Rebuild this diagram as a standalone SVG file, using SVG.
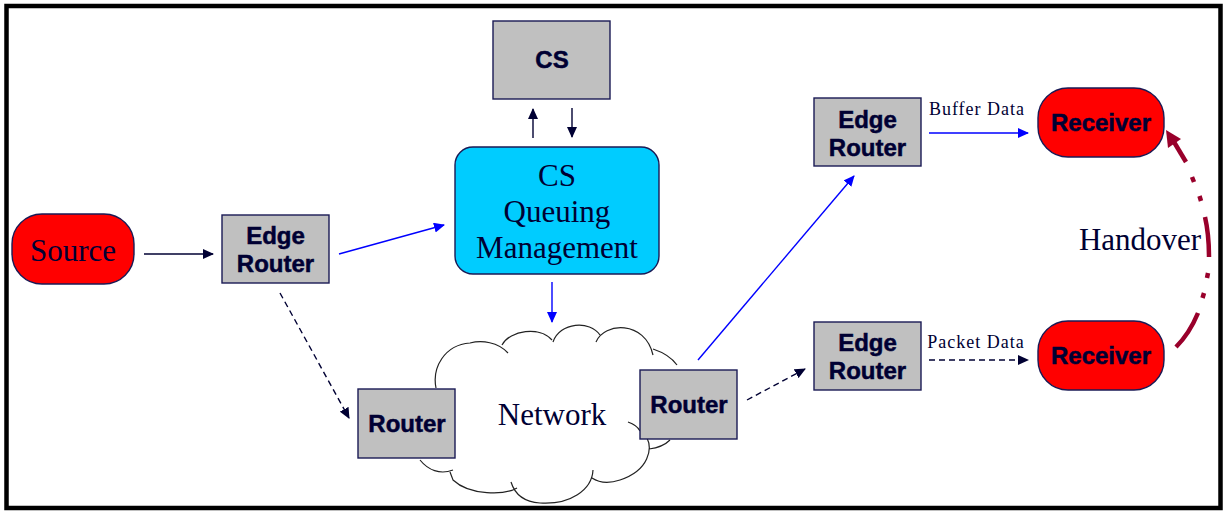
<svg xmlns="http://www.w3.org/2000/svg" width="1225" height="511" viewBox="0 0 1225 511">
<style>
.box{fill:#c0c0c0;stroke:#1a1a55;stroke-width:1.4}
.red{fill:#ff0000;stroke:#1a1a55;stroke-width:1.4}
.b{font-family:"Liberation Sans",Arial,sans-serif;font-weight:bold;font-size:24px;fill:#000033;stroke:#000033;stroke-width:0.5;text-anchor:middle}
.s{font-family:"Liberation Serif","Times New Roman",serif;font-size:31px;fill:#000033;text-anchor:middle}
.l{font-family:"Liberation Serif","Times New Roman",serif;font-size:18px;letter-spacing:1px;fill:#000033;text-anchor:middle}
.k{fill:none;stroke:#000033;stroke-width:1.4}
.u{fill:none;stroke:#0000ff;stroke-width:1.4}
.h{fill:none;stroke:#99002b;stroke-width:4.5}
.d{stroke-dasharray:6 4}
</style>
<defs>
<marker id="ak" markerWidth="11" markerHeight="10" refX="10" refY="5" orient="auto" markerUnits="userSpaceOnUse"><path d="M0 0L11 5L0 10z" fill="#000033"/></marker>
<marker id="au" markerWidth="11" markerHeight="10" refX="10" refY="5" orient="auto" markerUnits="userSpaceOnUse"><path d="M0 0L11 5L0 10z" fill="#0000ff"/></marker>
</defs>
<rect id="frame" x="6.500" y="6" width="1214" height="502" fill="#fff" stroke="#000" stroke-width="4.500"/>
<g id="cloud"><path d="M436 388C432 368 444 345 470 343C482 340 498 342 508 353M502 345C510 330 540 326 552 340M553 342C560 322 590 320 600 335M596 342C604 322 645 320 653 355M653 349C665 353 672 358 677 365L690 440L670 440C665 445 657 448 649 449M647 438C652 448 650 470 620 480C608 484 598 482 592 478M593 470C592 490 570 505 540 503C525 502 515 495 511 482M517 488C505 495 470 496 453 480L450 472M453 470C440 475 428 470 415 455L436 388Z" fill="#fff" stroke="none"/><path d="M436 388C432 368 444 345 470 343C482 340 498 342 508 353M502 345C510 330 540 326 552 340M553 342C560 322 590 320 600 335M596 342C604 322 645 320 653 355M653 349C665 353 672 358 677 365M670 440C665 445 657 448 649 449M647 438C652 448 650 470 620 480C608 484 598 482 592 478M593 470C592 490 570 505 540 503C525 502 515 495 511 482M517 488C505 495 470 496 453 480L450 472M453 470C440 475 428 470 420 460M628 422C634 424 638 427 640 431" fill="none" stroke="#222" stroke-width="1.200"/><text class="s" x="552" y="425">Network</text></g>
<g id="connectors">
<path class="k" d="M144 254H213" marker-end="url(#ak)"/>
<path class="u" d="M339 254L444 225" marker-end="url(#au)"/>
<path class="k d" d="M280 293L349 418" marker-end="url(#ak)"/>
<path class="k" d="M533 138V109" marker-end="url(#ak)"/>
<path class="k" d="M572 108V137" marker-end="url(#ak)"/>
<path class="u" d="M552 282V322" marker-end="url(#au)"/>
<path class="u" d="M698 360L854 176" marker-end="url(#au)"/>
<path class="k d" d="M747 400L805 369" marker-end="url(#ak)"/>
<path class="u" d="M929 133H1028" marker-end="url(#au)"/>
<path class="k d" d="M929 360H1028" marker-end="url(#ak)"/>
<path class="h" d="M1176 347C1186 337 1193 325 1198 313"/>
<path class="h" d="M1202.500 298L1204 293M1207 278L1208 273"/>
<path class="h" d="M1209 257C1209 243 1208 230 1205 217"/>
<path class="h" d="M1201 201L1199.500 196M1194 182L1192 177"/>
<path class="h" d="M1186 162L1174 142"/>
<path d="M1166 130L1181 139L1168 148z" fill="#99002b"/>
</g>
<g id="source"><rect class="red" x="12" y="214" width="122" height="70" rx="30"/><text class="s" x="73" y="261">Source</text></g>
<g id="edge1"><rect class="box" x="222" y="215" width="107" height="68"/><text class="b" x="275.500" y="244">Edge</text><text class="b" x="275.500" y="272">Router</text></g>
<g id="cs"><rect class="box" x="493" y="21" width="117" height="78"/><text class="b" x="552" y="68">CS</text></g>
<g id="queue"><rect x="455" y="147" width="204" height="127" rx="18" fill="#00ccff" stroke="#1a1a55" stroke-width="1.400"/><text class="s" x="557" y="186">CS</text><text class="s" x="557" y="222">Queuing</text><text class="s" x="557" y="258">Management</text></g>
<g id="routerL"><rect class="box" x="358" y="389" width="97" height="69"/><text class="b" x="407" y="432">Router</text></g>
<g id="routerR"><rect class="box" x="640" y="370" width="97" height="69"/><text class="b" x="689" y="413">Router</text></g>
<g id="edge2"><rect class="box" x="814" y="98" width="107" height="68"/><text class="b" x="867.500" y="128">Edge</text><text class="b" x="867.500" y="156">Router</text></g>
<g id="edge3"><rect class="box" x="814" y="322" width="107" height="68"/><text class="b" x="867.500" y="351">Edge</text><text class="b" x="867.500" y="379">Router</text></g>
<g id="rx1"><rect class="red" x="1038" y="88" width="126" height="69" rx="30"/><text class="b" x="1101" y="131">Receiver</text></g>
<g id="rx2"><rect class="red" x="1038" y="321" width="126" height="69" rx="30"/><text class="b" x="1101" y="364">Receiver</text></g>
<text class="l" x="977" y="115">Buffer Data</text>
<text class="l" x="976" y="348">Packet Data</text>
<text class="s" x="1140" y="250">Handover</text>
</svg>
